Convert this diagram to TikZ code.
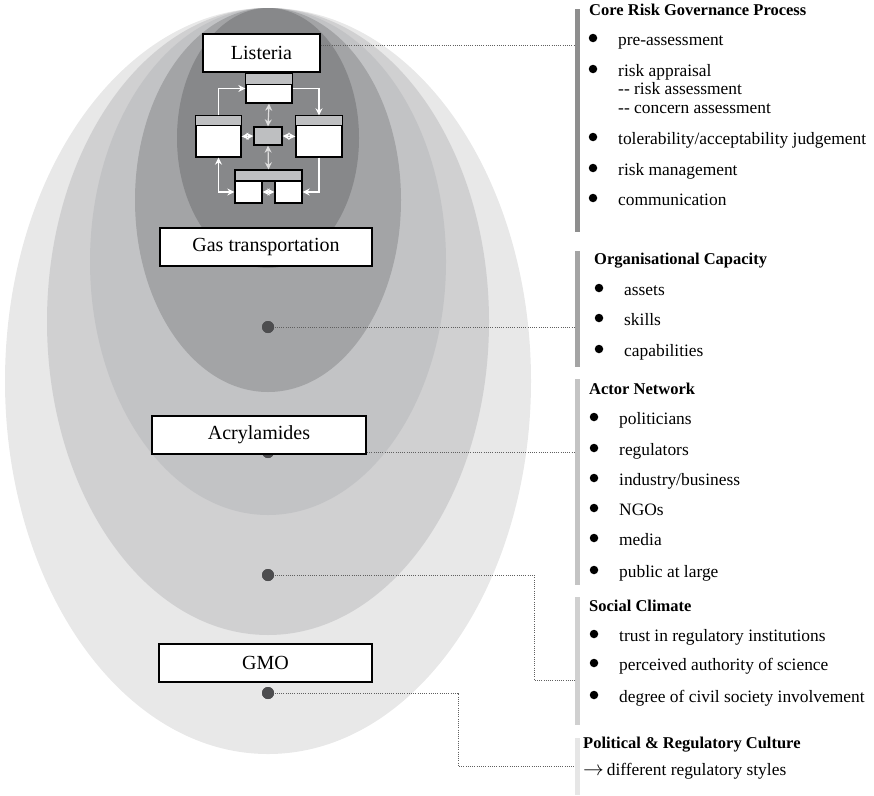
\documentclass[tikz,border=0pt]{standalone}
\usepackage{fontspec}
\setmainfont{Liberation Serif}
\usetikzlibrary{arrows.meta}

\definecolor{layerA}{HTML}{E8E8E8}
\definecolor{layerB}{HTML}{D0D0D1}
\definecolor{layerC}{HTML}{C2C3C5}
\definecolor{layerD}{HTML}{A3A4A6}
\definecolor{layerE}{HTML}{87888A}
\definecolor{barA}{HTML}{8E8E8E}
\definecolor{barB}{HTML}{A4A4A4}
\definecolor{barC}{HTML}{C4C4C4}
\definecolor{barD}{HTML}{D0D0D0}
\definecolor{barE}{HTML}{E6E6E6}
\definecolor{hubgray}{HTML}{4D4D4F}
\definecolor{hdrgray}{HTML}{BEBFC1}

\begin{document}
\begin{tikzpicture}[x=1pt,y=-1pt,
  labelbox/.style={draw=black, line width=1.3pt, fill=white, inner sep=0pt,
    minimum height=38pt, font=\fontsize{20}{24}\selectfont},
  hub/.style={circle, fill=hubgray, minimum size=12pt, inner sep=0pt},
  leader/.style={draw=gray!75!black, line width=0.8pt, dash pattern=on 1pt off 1.2pt},
  heading/.style={anchor=mid west, inner sep=0pt, font=\fontsize{16.5}{20}\selectfont\bfseries},
  entry/.style={anchor=mid west, inner sep=0pt, font=\fontsize{17.4}{20}\selectfont},
  dotmark/.style={circle, fill=black, minimum size=8.5pt, inner sep=0pt},
  fbox/.style={draw=black, line width=1.3pt, fill=white, inner sep=0pt},
  hdr/.style={draw=black, line width=1.3pt, fill=hdrgray},
  flow/.style={draw=white, line width=1.4pt, -{Stealth[length=7pt,width=7pt]}},
  flowboth/.style={draw=white, line width=1.4pt, {Stealth[length=7pt,width=7pt]}-{Stealth[length=7pt,width=7pt]}},
  flowmid/.style={draw=gray!25, line width=1.2pt, {Stealth[length=7pt,width=7pt,fill=white]}-{Stealth[length=7pt,width=7pt,fill=white]}}
]
\useasboundingbox (0,0) rectangle (874,795);

% nested context layers, all touching at the top
\fill[layerA] (268,381) ellipse [x radius=263pt, y radius=373pt];
\fill[layerB] (268,321.5) ellipse [x radius=221pt, y radius=313.5pt];
\fill[layerC] (268,261.5) ellipse [x radius=178pt, y radius=253.5pt];
\fill[layerD] (268,200) ellipse [x radius=133pt, y radius=192pt];
\fill[layerE] (268,138) ellipse [x radius=91pt, y radius=130pt];

% attachment points on the side bars
\coordinate (pCore) at (577,45);
\coordinate (pOrg) at (577,327);
\coordinate (pAct) at (577,452);
\coordinate (pSoc) at (577,680);
\coordinate (pPol) at (577,766);

% hubs of the layers
\node[hub] (hOrg) at (268,327) {};
\node[hub] (hAct) at (268,452) {};
\node[hub] (hSoc) at (268,575) {};
\node[hub] (hPol) at (268,693) {};

% leader lines
\draw[leader] (hOrg.center) -- (pOrg);
\draw[leader] (hAct.center) -- (pAct);
\draw[leader] (hSoc.center) -- (534,575) |- (pSoc);
\draw[leader] (hPol.center) -- (458,693) |- (pPol);
\node[hub] at (hOrg) {};
\node[hub] at (hAct) {};
\node[hub] at (hSoc) {};
\node[hub] at (hPol) {};

% example boxes
\node[labelbox, minimum width=117pt] (lst) at (261.5,53) {Listeria};
\draw[leader] (lst.east |- pCore) -- (pCore);
\node[labelbox, minimum width=212pt] (gas) at (266,247) {Gas transportation};
\node[labelbox, minimum width=214pt] (acr) at (259,435) {Acrylamides};
\node[labelbox, minimum width=213pt] (gmo) at (265.5,663) {GMO};

% risk governance process sketch
\node[fbox, minimum width=46pt, minimum height=29pt] (tb) at (269,88.5) {};
\draw[hdr] (tb.north west) rectangle ([yshift=-11pt]tb.north east);
\node[fbox, minimum width=45pt, minimum height=41pt] (lb) at (218.5,136.5) {};
\draw[hdr] (lb.north west) rectangle ([yshift=-10pt]lb.north east);
\node[fbox, minimum width=46pt, minimum height=41pt] (rb) at (319,136.5) {};
\draw[hdr] (rb.north west) rectangle ([yshift=-10pt]rb.north east);
\node[fbox, fill=hdrgray, minimum width=28pt, minimum height=18pt] (cb) at (268,136) {};
\node[fbox, fill=hdrgray, minimum width=67pt, minimum height=11pt] (bh) at (268.5,175.5) {};
\node[fbox, minimum width=27pt, minimum height=22pt] (bl) at (248.5,192) {};
\node[fbox, minimum width=27pt, minimum height=22pt] (br) at (288.5,192) {};

\draw[flow] (lb.north) |- (tb.west);
\draw[flow] (tb.east) -| (rb.north);
\draw[flow] (rb.south) |- (br.east);
\draw[flowboth] (bl.west) -| (lb.south);
\draw[flowmid] (tb.south) -- (cb.north);
\draw[flowmid] (cb.south) -- (bh.north);
\draw[flowboth] (cb.west) -- (lb.east);
\draw[flowboth] (cb.east) -- (rb.west);
\draw[flowboth] (bl.east) -- (br.west);

% side bars
\fill[barA] (575,9) rectangle (580,232);
\fill[barB] (575,251) rectangle (580,367);
\fill[barC] (575,379) rectangle (580,585);
\fill[barD] (575,597) rectangle (580,725);
\fill[barE] (575,738) rectangle (580,795);

% core risk governance process
\node[heading] (tCore) at (589,13) {Core Risk Governance Process};
\foreach \n/\y/\t in {c1/43/{pre-assessment}, c2/74/{risk appraisal},
    c3/142/{tolerability/acceptability judgement}, c4/173/{risk management},
    c5/203/{communication}}{
  \node[dotmark] at (593,\y-5) {};
  \node[entry] (\n) at (618,\y) {\t};
}
\node[entry] (c2a) at (618,92) {-{}- risk assessment};
\node[entry] (c2b) at (618,111) {-{}- concern assessment};

% organisational capacity
\node[heading] (tOrg) at (594,262) {Organisational Capacity};
\foreach \n/\y/\t in {o1/293/{assets}, o2/323/{skills}, o3/354/{capabilities}}{
  \node[dotmark] at (599,\y-5) {};
  \node[entry] (\n) at (624,\y) {\t};
}

% actor network
\node[heading] (tAct) at (589,392) {Actor Network};
\foreach \n/\y/\t in {a1/422/{politicians}, a2/453/{regulators},
    a3/483/{industry/business}, a4/513/{NGOs}, a5/543/{media},
    a6/575/{public at large}}{
  \node[dotmark] at (594,\y-5) {};
  \node[entry] (\n) at (619,\y) {\t};
}

% social climate
\node[heading] (tSoc) at (589,609) {Social Climate};
\foreach \n/\y/\t in {s1/639/{trust in regulatory institutions},
    s2/668/{perceived authority of science},
    s3/700/{degree of civil society involvement}}{
  \node[dotmark] at (594,\y-5) {};
  \node[entry] (\n) at (619,\y) {\t};
}

% political and regulatory culture
\node[heading] (tPol) at (583,746) {Political \& Regulatory Culture};
\node[entry] (p1) at (583,773) {{\fontsize{21}{21}\selectfont$\rightarrow$}\,different regulatory styles};
\end{tikzpicture}
\end{document}
